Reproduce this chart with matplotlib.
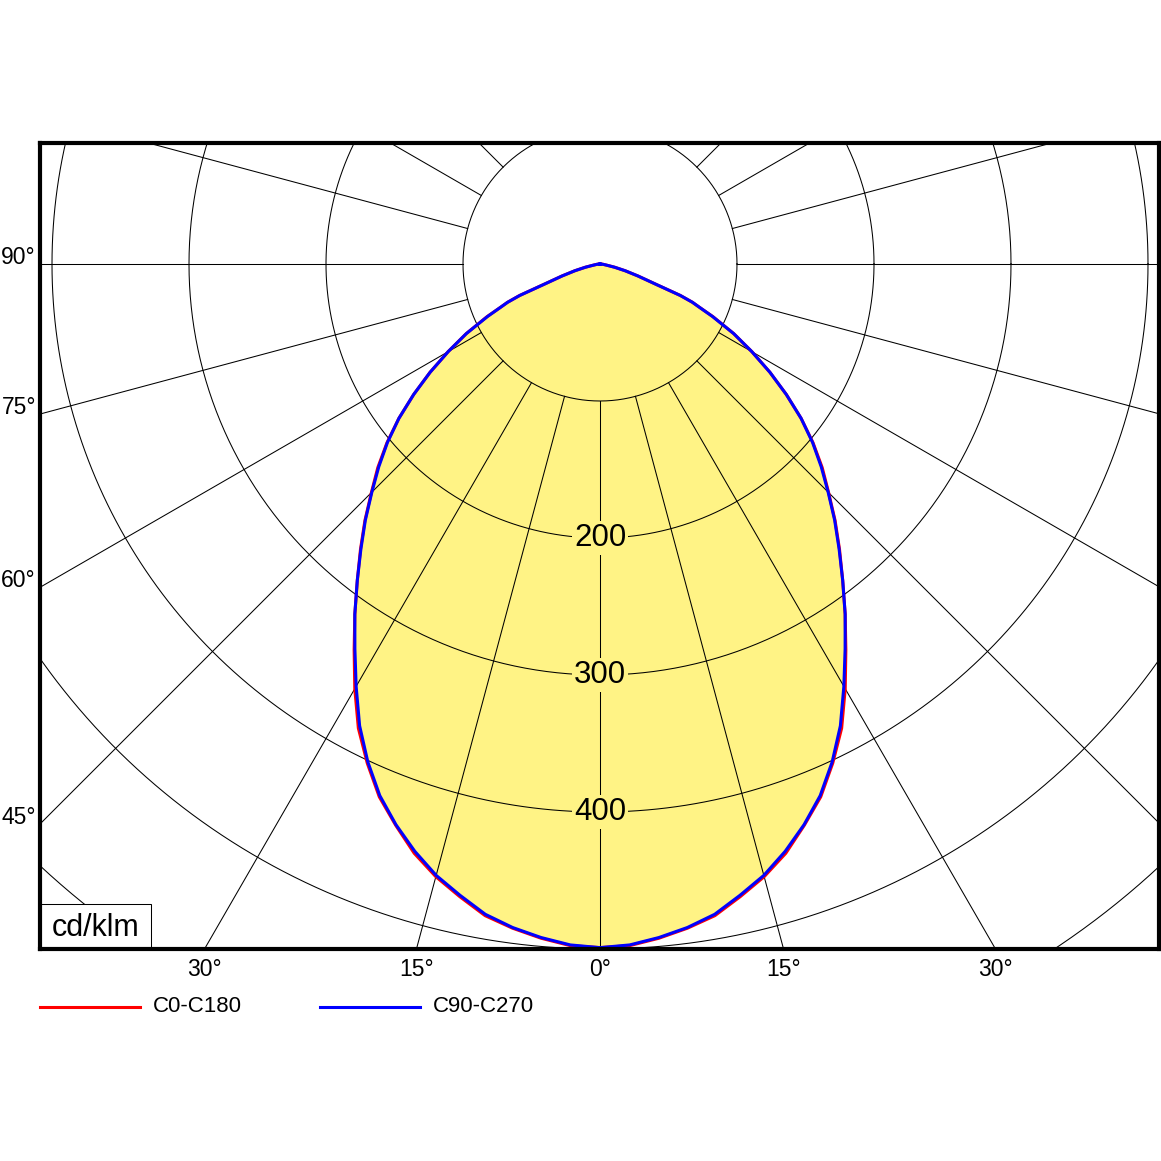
import numpy as np
import matplotlib
matplotlib.use('Agg')
import matplotlib.pyplot as plt
from matplotlib.patches import Rectangle, Polygon
from matplotlib.lines import Line2D

plt.rcParams['font.family'] = ['Liberation Sans', 'DejaVu Sans']

# gamma angles (deg from nadir) and intensities in cd/klm
gamma = [0, 2.5, 5, 7.5, 10, 12.5, 15, 17.5, 20, 22.5, 25, 27.5, 30, 32.5, 35, 37.5,
         40, 42.5, 45, 47.5, 50, 52.5, 55, 57.5, 60, 62.5, 65, 66.5, 67.5, 68.6, 70,
         72.5, 75, 77.5, 80, 85, 90]
c0_c180 = [499, 498, 494, 489, 483, 473, 463, 451, 436, 421, 402, 382, 358, 334, 312, 291,
           272, 254, 236, 220, 203, 185, 166, 147, 128, 110, 91, 79, 73, 63, 44,
           29, 19, 11, 5, 2, 0]
c90_c270 = [499, 497.5, 493.5, 488.5, 482, 472, 462, 449.5, 435.5, 420, 401, 380, 356, 333, 312, 291,
            271.5, 253.5, 235.5, 219, 202.5, 185, 166, 147, 128, 110, 90.5, 79, 73, 63, 44,
            29, 19, 11, 5, 2, 0]

ring_values = [100, 200, 300, 400, 500, 600, 700, 800]
ring_labels = [200, 300, 400]
side_ticks = [45, 60, 75, 90]
bottom_ticks = [30, 15, 0, -15, -30]

W = H = 1161
px = 1.37  # pixels per cd/klm
x0, x1 = 40, 1159
y0, y1 = 143, 949
cx, cy = 600, 264

fig = plt.figure(figsize=(W / 100, H / 100), dpi=100)
ax = fig.add_axes([x0 / W, (H - y1) / H, (x1 - x0) / W, (y1 - y0) / H])
xmin, xmax = -(cx - x0) / px, (x1 - cx) / px
ymin, ymax = -(y1 - cy) / px, (cy - y0) / px
ax.set_xlim(xmin, xmax)
ax.set_ylim(ymin, ymax)
ax.set_xticks([])
ax.set_yticks([])
for s in ax.spines.values():
    s.set_linewidth(3)
    s.set_zorder(10)


def curve(vals):
    g = np.radians(np.array(gamma, dtype=float))
    v = np.array(vals, dtype=float)
    # left half (C0 / C90), then mirrored right half (C180 / C270)
    xl = -v * np.sin(g)
    yl = -v * np.cos(g)
    xs = np.concatenate([xl[::-1], -xl[1:]])
    ys = np.concatenate([yl[::-1], yl[1:]])
    return xs, ys


# yellow fill
fx, fy = curve(c90_c270)
ax.add_patch(Polygon(np.column_stack([fx, fy]), closed=True, facecolor='#fff385',
                     edgecolor='none', zorder=1))

# rings
t = np.linspace(0, 2 * np.pi, 721)
for r in ring_values:
    ax.plot(r * np.cos(t), r * np.sin(t), color='black', lw=0.75, zorder=2)

# radial lines, starting at the first ring
for a in range(0, 360, 15):
    ar = np.radians(a)
    dx, dy = -np.sin(ar), -np.cos(ar)
    ax.plot([100 * dx, 1200 * dx], [100 * dy, 1200 * dy], color='black', lw=0.75, zorder=2)

# ring labels
for v in ring_labels:
    ax.text(0, -v, str(v), ha='center', va='center', fontsize=22.5, zorder=5,
            bbox=dict(facecolor='#fff385', edgecolor='none', pad=1.5))

# curves
rx, ry = curve(c0_c180)
bx, by = curve(c90_c270)
ax.plot(rx, ry, color='#ff0000', lw=2.2, zorder=6, solid_joinstyle='round')
ax.plot(bx, by, color='#0000ff', lw=2.2, zorder=7, solid_joinstyle='round')

# angle labels on the left edge
for a in side_ticks:
    yh = xmin / np.tan(np.radians(a)) if a != 90 else 0.0
    yh = -abs(yh)
    ax.annotate(f'{a}°', (xmin, yh), xytext=(-4, -5), textcoords='offset pixels',
                ha='right', va='bottom', fontsize=16.5, annotation_clip=False)

# angle labels on the bottom edge
for a in bottom_ticks:
    xh = ymin * np.tan(np.radians(a))
    ax.annotate(f'{abs(a)}°', (xh, ymin), xytext=(0, -9), textcoords='offset pixels',
                ha='center', va='top', fontsize=16.5, annotation_clip=False)

# unit box
bw, bh = 111 / px, 45 / px
ax.add_patch(Rectangle((xmin, ymin), bw, bh, facecolor='white', edgecolor='black',
                       lw=0.75, zorder=8))
ax.text(xmin + 12 / px, ymin + bh / 2 - 2 / px, 'cd/klm', ha='left', va='center',
        fontsize=22, zorder=9)

# legend below the chart
ly = 1 - 1007 / H
for (lx, label, col) in [(40, 'C0-C180', '#ff0000'), (320, 'C90-C270', '#0000ff')]:
    fig.add_artist(Line2D([lx / W, (lx + 100) / W], [ly, ly], color=col, lw=2.2))
    fig.text((lx + 113) / W, ly, label, ha='left', va='center', fontsize=16)

fig.savefig('out.png', dpi=100, facecolor='white')
